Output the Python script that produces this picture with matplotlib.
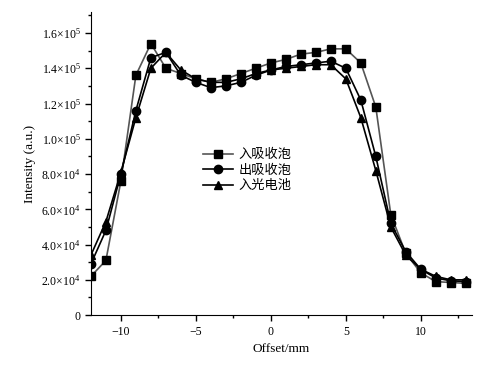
import matplotlib
matplotlib.use('Agg')
import matplotlib.pyplot as plt
from matplotlib.ticker import MultipleLocator, FuncFormatter

plt.rcParams['font.family'] = ['Liberation Serif', 'Noto Sans CJK SC']
plt.rcParams['mathtext.fontset'] = 'custom'
plt.rcParams['mathtext.rm'] = 'Liberation Serif'
plt.rcParams['axes.unicode_minus'] = True

offset = list(range(-12, 14))
# 入吸收泡
in_abs = [2.2, 3.1, 7.6, 13.6, 15.4, 14.0, 13.7, 13.4, 13.2, 13.4, 13.7, 14.0, 14.3,
          14.5, 14.8, 14.9, 15.1, 15.1, 14.3, 11.8, 5.7, 3.5, 2.4, 1.9, 1.85, 1.8]
# 出吸收泡
out_abs = [2.9, 4.8, 8.0, 11.6, 14.6, 14.9, 13.6, 13.2, 12.9, 13.0, 13.2, 13.6, 13.9,
           14.1, 14.2, 14.3, 14.4, 14.0, 12.2, 9.0, 5.2, 3.6, 2.6, 2.1, 1.95, 1.9]
# 入光电池
in_cell = [3.4, 5.3, 8.1, 11.2, 14.0, 14.9, 13.9, 13.4, 13.2, 13.2, 13.4, 13.7, 13.9,
           14.0, 14.1, 14.2, 14.2, 13.4, 11.2, 8.2, 5.0, 3.4, 2.6, 2.2, 2.0, 2.0]
scale = 1e4

fig = plt.figure(figsize=(4.94, 3.69), dpi=100)
ax = fig.add_axes([0.184, 0.146, 0.771, 0.821])

ax.plot(offset, [v * scale for v in in_abs], color='#555555', lw=1.2, marker='s', ms=5.5,
        mfc='black', mec='black', label='入吸收泡')
ax.plot(offset, [v * scale for v in out_abs], color='black', lw=1.2, marker='o', ms=6,
        label='出吸收泡')
ax.plot(offset, [v * scale for v in in_cell], color='black', lw=1.2, marker='^', ms=6,
        label='入光电池')

ax.set_xlim(-12, 13.4)
ax.set_ylim(0, 1.718e5)
ax.xaxis.set_major_locator(MultipleLocator(5))
ax.xaxis.set_minor_locator(MultipleLocator(2.5))
ax.yaxis.set_major_locator(MultipleLocator(2e4))
ax.yaxis.set_minor_locator(MultipleLocator(1e4))


def yfmt(v, pos):
    if v == 0:
        return '0'
    e = 5 if v >= 1e5 else 4
    return r'$\mathregular{%.1f{\times}10^{%d}}$' % (v / 10 ** e, e)


ax.yaxis.set_major_formatter(FuncFormatter(yfmt))
for s in ['top', 'right']:
    ax.spines[s].set_visible(False)
ax.tick_params(direction='out', length=4, width=1, labelsize=8.5)
ax.tick_params(which='minor', direction='out', length=2, width=1)

ax.set_xlabel('Offset/mm', fontsize=9.5)
ax.set_ylabel('Intensity (a.u.)', fontsize=9.5)

leg = ax.legend(loc='center', bbox_to_anchor=(0.41, 0.478), frameon=False,
                handlelength=2.3, handletextpad=0.4, labelspacing=0.2,
                prop={'family': ['Noto Sans CJK SC'], 'size': 9.5})

fig.savefig('out.png', dpi=100)
